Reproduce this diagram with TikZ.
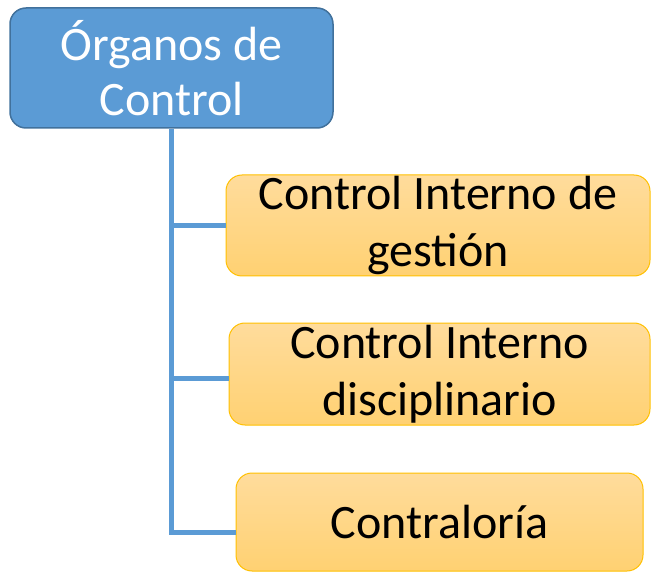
\documentclass[tikz,border=0pt]{standalone}
\usepackage{fontspec}
\setmainfont{Carlito}
\definecolor{topfill}{HTML}{5B9BD5}
\definecolor{topline}{HTML}{41719C}
\definecolor{linkc}{HTML}{5B9BD5}
\definecolor{goldtop}{HTML}{FFDC9C}
\definecolor{goldbot}{HTML}{FFD172}
\definecolor{goldline}{HTML}{FFC000}
\tikzset{
  x=1pt, y=1pt,
  topbox/.style={draw=topline, line width=1.5pt, fill=topfill, rounded corners=16pt,
    text=white, align=center, inner sep=0pt, minimum width=323pt, minimum height=120pt,
    font=\fontsize{48}{55}\selectfont},
  subbox/.style={draw=goldline, line width=1pt, top color=goldtop, bottom color=goldbot,
    rounded corners=16pt, text=black, align=center, inner sep=0pt,
    font=\fontsize{48}{57}\selectfont},
  link/.style={draw=linkc, line width=5pt}
}
\begin{document}
\begin{tikzpicture}
\useasboundingbox (0,0) rectangle (651,-572);
\node[topbox] (top) at (171.5,-68) {Órganos de\\Control};
\node[subbox, minimum width=424pt, minimum height=101pt] (b1) at (438,-225.5) {Control Interno de\\gestión};
\node[subbox, minimum width=421pt, minimum height=102pt] (b2) at (439.5,-374) {Control Interno\\disciplinario};
\node[subbox, minimum width=407pt, minimum height=98pt] (b3) at (439.5,-522) {Contraloría};
\coordinate (c3) at ([yshift=-10pt]b3.west);
\draw[link] (top.south) |- (c3);
\draw[link] (top.south |- b1.west) -- (b1.west);
\draw[link] ([yshift=-4pt]top.south |- b2.west) -- ([yshift=-4pt]b2.west);
\end{tikzpicture}
\end{document}
